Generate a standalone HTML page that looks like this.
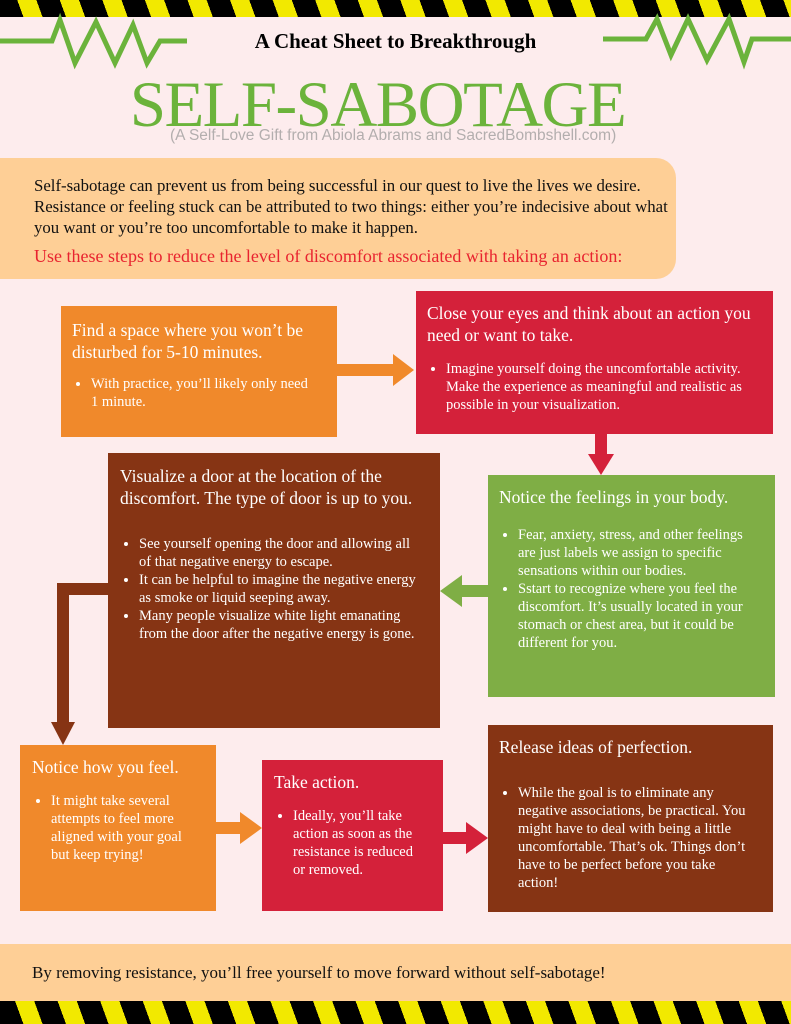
<!DOCTYPE html>
<html><head><meta charset="utf-8"><style>
body{margin:0;width:791px;height:1024px;background:#fdeced;position:relative;overflow:hidden;font-family:"Liberation Serif",serif;}
.a{position:absolute;box-sizing:border-box;}
.stripe{left:0;width:791px;background:repeating-linear-gradient(70deg,#000 0 22px,#f2e900 22px 40px);}
.box{color:#fff;padding:12px 12px;font-size:17.5px;line-height:22px;}
.box ul{margin:14px 0 0 0;padding-left:19px;font-size:14.5px;line-height:18px;}
.box li{margin:0;}
</style></head><body>
<div class="a stripe" style="top:0;height:17px"></div>
<svg class="a" style="left:0;top:0" width="791" height="110">
<polyline points="0,41 52,41 60,20 75,63 96,22 115,63 133,25 147,63 160,41 187,41" fill="none" stroke="#6bb33b" stroke-width="5"/>
<polyline points="603,39 646,39 657,19 671,55 688,19 707,60 729,19 744,62 752,39 791,39" fill="none" stroke="#6bb33b" stroke-width="5"/>
</svg>
<div class="a" style="left:0;width:791px;top:29px;text-align:center;font-weight:bold;font-size:21px">A Cheat Sheet to Breakthrough</div>
<div class="a" style="left:0;width:791px;top:70px;padding-right:36px;text-align:center;font-size:65px;line-height:70px;color:#6bb33b;letter-spacing:-1.5px">SELF-SABOTAGE</div>
<div class="a" style="left:170px;top:127px;font-family:'Liberation Sans',sans-serif;font-size:15.5px;color:#b3aeae">(A Self-Love Gift from Abiola Abrams and SacredBombshell.com)</div>
<div class="a" style="left:0;top:158px;width:676px;height:121px;background:#fecf96;border-radius:0 20px 20px 0;padding:17px 0 0 34px;font-size:16.8px;line-height:21px;color:#111">Self-sabotage can prevent us from being successful in our quest to live the lives we desire. Resistance or feeling stuck can be attributed to two things: either you’re indecisive about what you want or you’re too uncomfortable to make it happen.<div style="color:#e8232f;margin-top:8px;font-size:18px">Use these steps to reduce the level of discomfort associated with taking an action:</div></div>

<div class="a box" style="left:61px;top:306px;width:276px;height:131px;background:#f0892b;padding:13px 28px 0 11px">Find a space where you won’t be disturbed for 5-10 minutes.<ul style="margin-top:12px"><li>With practice, you’ll likely only need 1 minute.</li></ul></div>
<div class="a box" style="left:416px;top:291px;width:357px;height:143px;background:#d4213a;padding:11px 8px 0 11px">Close your eyes and think about an action you need or want to take.<ul><li>Imagine yourself doing the uncomfortable activity. Make the experience as meaningful and realistic as possible in your visualization.</li></ul></div>
<div class="a box" style="left:108px;top:453px;width:332px;height:275px;background:#863414;padding:12px 10px 0 12px">Visualize a door at the location of the discomfort. The type of door is up to you.<ul style="margin-top:26px;padding-right:8px"><li>See yourself opening the door and allowing all of that negative energy to escape.</li><li>It can be helpful to imagine the negative energy as smoke or liquid seeping away.</li><li>Many people visualize white light emanating from the door after the negative energy is gone.</li></ul></div>
<div class="a box" style="left:488px;top:475px;width:287px;height:222px;background:#7fae45;padding:11px 14px 0 11px">Notice the feelings in your body.<ul style="margin-top:18px"><li>Fear, anxiety, stress, and other feelings are just labels we assign to specific sensations within our bodies.</li><li>Sstart to recognize where you feel the discomfort. It’s usually located in your stomach or chest area, but it could be different for you.</li></ul></div>
<div class="a box" style="left:20px;top:745px;width:196px;height:166px;background:#f0892b;padding:11px 12px 0 12px">Notice how you feel.<ul style="margin-top:14px"><li>It might take several attempts to feel more aligned with your goal but keep trying!</li></ul></div>
<div class="a box" style="left:262px;top:760px;width:181px;height:151px;background:#d4213a;padding:11px 18px 0 12px">Take action.<ul style="margin-top:14px"><li>Ideally, you’ll take action as soon as the resistance is reduced or removed.</li></ul></div>
<div class="a box" style="left:488px;top:725px;width:285px;height:187px;background:#863414;padding:11px 20px 0 11px">Release ideas of perfection.<ul style="margin-top:26px"><li>While the goal is to eliminate any negative associations, be practical. You might have to deal with being a little uncomfortable. That’s ok. Things don’t have to be perfect before you take action!</li></ul></div>

<svg class="a" style="left:0;top:0" width="791" height="1024">
<g fill="#f0892b"><rect x="337" y="364" width="56" height="12"/><polygon points="393,354 414,370 393,386"/>
<rect x="216" y="822" width="26" height="12"/><polygon points="240,812 262,828 240,844"/></g>
<g fill="#d4213a"><rect x="595" y="434" width="12" height="22"/><polygon points="588,454 614,454 601,475"/>
<rect x="443" y="832" width="26" height="12"/><polygon points="466,822 488,838 466,854"/></g>
<g fill="#7fae45"><rect x="462" y="585" width="26" height="12"/><polygon points="462,575 440,591 462,607"/></g>
<g fill="#863414"><rect x="57" y="583" width="51" height="12"/><rect x="57" y="583" width="12" height="142"/><polygon points="51,722 75,722 63,745"/></g>
</svg>

<div class="a" style="left:0;top:944px;width:791px;height:57px;background:#fecf96;padding:19px 0 0 32px;font-size:17px;color:#111">By removing resistance, you’ll free yourself to move forward without self-sabotage!</div>
<div class="a stripe" style="top:1001px;height:23px"></div>
</body></html>
